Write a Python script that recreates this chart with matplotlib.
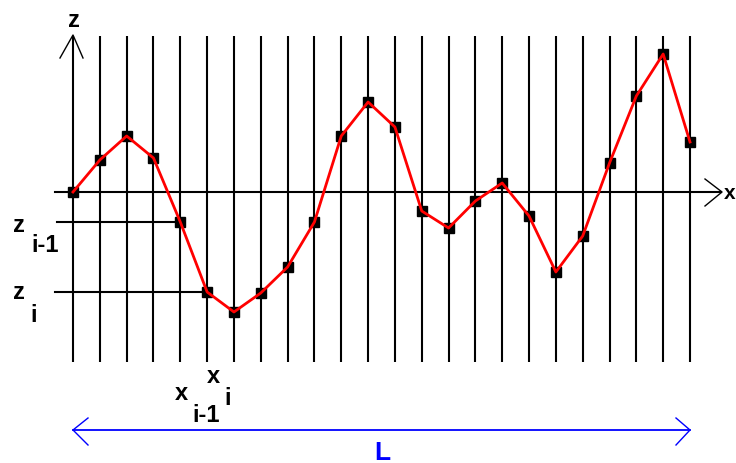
import matplotlib
matplotlib.use("Agg")
import matplotlib.pyplot as plt
import numpy as np

# ---- data (sample index along x, surface height z) ----
x_idx = list(range(24))
z_vals = [0.0, 3.2, 5.6, 3.4, -3.0, -10.0, -12.0, -10.1, -7.5, -3.0,
          5.6, 9.0, 6.5, -1.9, -3.6, -0.9, 0.9, -2.4, -8.0, -4.4,
          2.9, 9.6, 13.8, 5.0]
i_prev, i_cur = 4, 5           # indices labelled x_{i-1}, x_i
axis_labels = ["z", "x", "L"]

# ---- layout helpers (pixel -> data) ----
W, H = 736, 464
X0PX, SX = 73.0, (690.0 - 73.0) / 23.0
Z0PX, SZ = 193.0, 10.0
def PX(px): return (px - X0PX) / SX
def PZ(py): return (Z0PX - py) / SZ

fig = plt.figure(figsize=(W / 100, H / 100), dpi=100)
ax = fig.add_axes([0, 0, 1, 1])
ax.set_xlim(PX(0), PX(W))
ax.set_ylim(PZ(H), PZ(0))
ax.axis("off")

plt.rcParams["font.family"] = ["Liberation Sans", "DejaVu Sans"]
FS = 17
black_lw = 1.5

# vertical grid lines at each sample
ztop, zbot = PZ(37), PZ(363)
for xv in x_idx:
    ax.plot([xv, xv], [zbot, ztop], color="black", lw=black_lw, zorder=1,
            solid_capstyle="butt")

# z-axis arrowhead
ax.plot([PX(60), x_idx[0], PX(83)], [PZ(59), PZ(36), PZ(59)],
        color="black", lw=1.0, zorder=1)

# x-axis with arrowhead
ax.plot([PX(55), PX(721)], [0, 0], color="black", lw=black_lw, zorder=1)
ax.plot([PX(705), PX(722), PX(705)], [PZ(180), 0, PZ(207)],
        color="black", lw=1.0, zorder=1)

# z_{i-1} and z_i guide lines
ax.plot([PX(57), x_idx[i_prev]], [z_vals[i_prev]] * 2, color="black",
        lw=black_lw, zorder=1)
ax.plot([PX(55), x_idx[i_cur]], [z_vals[i_cur]] * 2, color="black",
        lw=black_lw, zorder=1)

# data: squares + red profile line
ax.plot(x_idx, z_vals, "s", color="black", ms=7.2, zorder=2)
ax.plot(x_idx, z_vals, "-", color="#ff0000", lw=2.0, zorder=3)

# L arrow (blue)
zL = PZ(431)
ax.plot([x_idx[0], x_idx[-1]], [zL, zL], color="#0000ff", lw=1.3)
ax.plot([PX(88), x_idx[0], PX(88)], [PZ(419), zL, PZ(446)],
        color="#0000ff", lw=1.0)
ax.plot([PX(676), x_idx[-1], PX(676)], [PZ(419), zL, PZ(446)],
        color="#0000ff", lw=1.0)

def txt(px, py, s, ha="left", **kw):
    ax.text(PX(px), PZ(py), s, ha=ha, va="baseline", fontsize=kw.pop("fs", FS),
            fontweight=kw.pop("fw", "bold"), **kw)

# axis labels
txt(74, 27, axis_labels[0], ha="center")
txt(724, 199, axis_labels[1], fs=15)
txt(382, 460, axis_labels[2], ha="center", color="#0000ff", fs=19)

# z_{i-1}, z_i labels
txt(13, 232, "z")
txt(31, 252, "i-1")
txt(13, 299, "z")
txt(30, 322, "i")

# x_{i-1}, x_i labels
txt(175, 400, "x")
txt(192, 422, "i-1")
txt(207, 383, "x")
txt(224, 405, "i")

fig.savefig("out.png", dpi=100)
